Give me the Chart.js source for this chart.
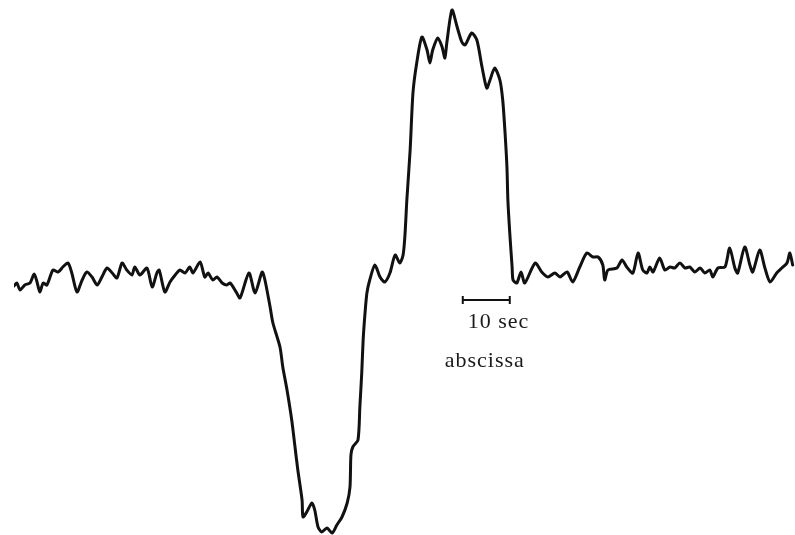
<!DOCTYPE html>
<html lang="en">
<head>
  <meta charset="UTF-8" />
  <title>Recorder trace</title>
  <script src="https://cdn.jsdelivr.net/npm/chart.js"></script>
  <style>
    html, body {
      margin: 0;
      padding: 0;
      background: #ffffff;
    }

    #trace {
      display: block;
    }
  </style>
</head>
<body>
  <canvas id="trace" width="795" height="535"></canvas>

  <script>
    // time in seconds from the left edge of the record
    const time = [
      0.0, 0.6, 1.3, 2.3, 3.4, 4.3, 4.9, 5.5, 6.2, 7.0,
      8.3, 9.4, 10.4, 11.5, 12.3, 13.4, 14.5, 15.5, 16.6, 17.7,
      18.7, 19.8, 20.9, 21.9, 23.0, 24.0, 25.1, 25.7, 26.8, 28.3,
      29.4, 30.4, 30.9, 32.1, 33.2, 34.3, 35.3, 36.4, 37.4, 38.1,
      39.6, 40.6, 41.3, 42.3, 43.2, 44.3, 45.3, 46.0, 47.4, 48.1,
      50.0, 51.3, 52.8, 53.4, 54.5,
      55.1, 56.6, 57.2, 58.1, 59.1, 59.8, 60.4, 61.3, 61.5, 62.3,
      63.4, 64.0, 64.7, 65.5, 66.6, 67.7, 68.7, 69.8, 70.9, 71.5,
      71.7, 72.1, 73.2, 73.6, 74.0, 74.3, 74.7, 75.1, 75.7, 76.8,
      77.9, 78.9, 80.0, 81.1, 82.1, 82.8, 83.2, 83.6, 84.3, 84.9,
      85.7, 86.8, 87.9, 88.5, 89.1, 90.2, 91.1, 91.7, 92.1, 93.2,
      94.3, 95.3, 96.0, 97.4, 98.5, 99.6, 100.6, 101.3, 102.3, 103.4,
      104.0, 104.5, 104.9, 105.1, 105.5, 106.0, 106.2,
      107.0, 107.9, 108.7, 110.9, 112.3, 113.6, 115.1, 116.2, 117.7, 118.9,
      120.4, 121.9, 123.2, 124.3, 125.3, 125.7, 126.4, 128.3, 129.4, 130.4,
      131.7, 132.8, 133.8, 134.7, 135.3, 136.0, 137.4, 138.5, 139.6, 140.6,
      141.7, 142.8, 143.8, 144.9, 146.0, 147.0, 148.1, 148.7, 149.8, 151.3,
      152.3, 153.4, 154.0, 155.5, 156.6, 157.2, 158.7, 159.8, 160.9, 162.3,
      163.4, 164.5, 165.1, 165.7
    ];

    // pen deflection, arbitrary units (0 = resting level)
    const deflection = [
      -1.1, -0.8, -1.5, -1.0, -0.8, 0.1, -0.7, -1.7, -0.8, -1.0,
      0.5, 0.3, 0.8, 1.2, 0.2, -1.7, -0.5, 0.3, -0.2, -1.0,
      -0.2, 0.7, 0.2, -0.3, 1.2, 0.5, 0.0, 0.8, 0.0, 0.7,
      -1.2, 0.2, 0.5, -1.7, -0.7, 0.0, 0.5, 0.2, 0.8, 0.2,
      1.3, -0.2, 0.2, -0.5, -0.2, -0.8, -1.0, -0.8, -1.8, -2.3,
      0.2, -1.8, 0.3, -0.5, -3.2,
      -4.8, -7.2, -9.2, -11.5, -14.5, -17.2, -19.5, -22.5, -24.2, -23.7,
      -22.8, -23.5, -25.2, -25.7, -25.3, -25.8, -25.0, -24.2, -22.8, -21.2,
      -18.0, -17.2, -16.5, -13.2, -9.8, -6.5, -3.8, -1.8, -0.5, 1.0,
      -0.2, -0.7, 0.2, 2.0, 1.2, 2.0, 4.0, 7.5, 12.5, 18.2,
      21.2, 23.8, 22.5, 21.2, 22.5, 23.7, 22.8, 21.7, 23.2, 26.5,
      24.8, 23.3, 23.0, 24.2, 23.5, 20.8, 18.7, 19.5, 20.7, 19.5,
      17.5, 14.2, 10.8, 7.5, 4.2, 0.8, -0.5,
      -0.8, 0.3, -0.8, 1.2, 0.3, -0.2, 0.2, -0.2, 0.3, -0.7,
      0.8, 2.2, 1.8, 1.8, 1.0, -0.5, 0.5, 0.7, 1.5, 0.8,
      0.2, 2.2, 0.5, 0.2, 0.8, 0.3, 1.7, 0.5, 0.8, 0.7,
      1.2, 0.7, 0.8, 0.3, 0.7, 0.2, 0.5, -0.2, 0.7, 0.8,
      2.7, 0.7, 0.2, 2.8, 1.0, 0.3, 2.5, 0.7, -0.7, 0.2,
      0.7, 1.2, 2.2, 1.0
    ];

    // 10 second time marker
    const markerTime = [95.5, 105.5];
    const markerLevel = [-2.5, -2.5];
    const markerLabel = '10 sec';
    const axisNote = 'abscissa';

    const tracePoints = time.map((t, i) => ({ x: t, y: deflection[i] }));
    const markerPoints = markerTime.map((t, i) => ({ x: t, y: markerLevel[i] }));

    const labelPlugin = {
      id: 'markerText',
      afterDatasetsDraw(chart) {
        const { ctx, scales } = chart;
        const x0 = scales.x.getPixelForValue(markerTime[0]);
        const y0 = scales.y.getPixelForValue(markerLevel[0]);
        ctx.save();
        ctx.fillStyle = '#1a1a1a';
        ctx.font = '22px "Liberation Serif", serif';
        ctx.letterSpacing = '1px';
        ctx.textAlign = 'left';
        ctx.textBaseline = 'alphabetic';
        ctx.fillText(markerLabel, x0 + 5, y0 + 28);
        ctx.fillText(axisNote, x0 - 18, y0 + 67);
        ctx.restore();
      }
    };

    new Chart(document.getElementById('trace'), {
      type: 'line',
      data: {
        datasets: [
          {
            data: tracePoints,
            borderColor: '#111111',
            borderWidth: 3,
            borderJoinStyle: 'round',
            borderCapStyle: 'round',
            tension: 0.25,
            pointRadius: 0,
            fill: false
          },
          {
            data: markerPoints,
            borderColor: '#111111',
            borderWidth: 2,
            tension: 0,
            pointStyle: 'line',
            rotation: 90,
            pointRadius: 4,
            pointBorderWidth: 2,
            pointBorderColor: '#111111',
            fill: false
          }
        ]
      },
      options: {
        responsive: false,
        animation: false,
        layout: {
          autoPadding: false,
          padding: { left: 14, right: 0, top: 0, bottom: 0 }
        },
        plugins: {
          legend: { display: false },
          tooltip: { enabled: false }
        },
        scales: {
          x: { type: 'linear', min: 0, max: 166.2, display: false },
          y: { type: 'linear', min: -26, max: 27.5, display: false }
        }
      },
      plugins: [labelPlugin]
    });
  </script>
</body>
</html>
